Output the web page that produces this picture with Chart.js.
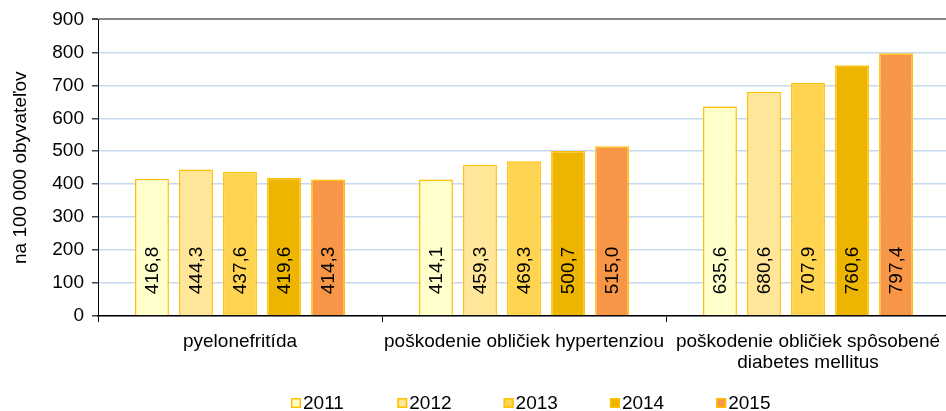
<!DOCTYPE html>
<html>
<head>
<meta charset="utf-8">
<script src="https://cdn.jsdelivr.net/npm/chart.js@4"></script>
<style>
  html, body { margin: 0; padding: 0; background: #fff; overflow: hidden; }
  #wrap { width: 960px; height: 411px; }
</style>
</head>
<body>
<div id="wrap"><canvas id="kidney_chart"></canvas></div>
<script>
// data
const categories = [
    'pyelonefritída',
    'poškodenie obličiek hypertenziou',
    ['poškodenie obličiek spôsobené', 'diabetes mellitus']
];
const years = ['2011', '2012', '2013', '2014', '2015'];
const values2011 = [416.8, 414.1, 635.6];
const values2012 = [444.3, 459.3, 680.6];
const values2013 = [437.6, 469.3, 707.9];
const values2014 = [419.6, 500.7, 760.6];
const values2015 = [414.3, 515.0, 797.4];
const yTicks = [0, 100, 200, 300, 400, 500, 600, 700, 800, 900];

const fills = ['#FFFFCC', '#FFE699', '#FFD450', '#EDB500', '#F79646'];
const edge = '#FFC000';
const font = 'Arial, "Liberation Sans", sans-serif';
const fontSize = 19;

const series = [values2011, values2012, values2013, values2014, values2015];

// values written vertically inside each bar, near its base
const barLabels = {
    id: 'barLabels',
    afterDatasetsDraw(chart) {
        const ctx = chart.ctx;
        ctx.save();
        ctx.font = fontSize + 'px ' + font;
        ctx.fillStyle = '#000';
        ctx.textAlign = 'left';
        ctx.textBaseline = 'middle';
        chart.data.datasets.forEach((ds, i) => {
            chart.getDatasetMeta(i).data.forEach((bar, j) => {
                const txt = ds.data[j].toFixed(1).replace('.', ',');
                ctx.save();
                ctx.translate(bar.x, bar.base - 21);
                ctx.rotate(-Math.PI / 2);
                ctx.fillText(txt, 0, 1);
                ctx.restore();
            });
        });
        ctx.restore();
    }
};

// legend at the bottom, drawn by hand for Excel-like spacing
const bottomLegend = {
    id: 'bottomLegend',
    afterDraw(chart) {
        const ctx = chart.ctx;
        ctx.save();
        ctx.font = fontSize + 'px ' + font;
        ctx.textBaseline = 'middle';
        const y = 403;
        let x = 291;
        chart.data.datasets.forEach(ds => {
            ctx.fillStyle = ds.backgroundColor;
            ctx.fillRect(x, y - 5, 10, 10);
            ctx.strokeStyle = ds.borderColor;
            ctx.lineWidth = 1.5;
            ctx.strokeRect(x + 0.75, y - 4.25, 8.5, 8.5);
            ctx.fillStyle = '#000';
            ctx.fillText(ds.label, x + 12, y + 1);
            x += 106.3;
        });
        ctx.restore();
    }
};

const datasets = series.map((vals, i) => ({
    label: years[i],
    data: vals,
    backgroundColor: fills[i],
    borderColor: edge,
    borderWidth: 1.5,
    categoryPercentage: 0.775,
    barPercentage: 0.77
}));

Chart.defaults.font.family = font;
Chart.defaults.color = '#000';

const ctx = document.getElementById('kidney_chart');
new Chart(ctx, {
    type: 'bar',
    data: {
        labels: categories,
        datasets: datasets
    },
    plugins: [barLabels, bottomLegend],
    options: {
        responsive: true,
        maintainAspectRatio: false,
        animation: false,
        layout: {
            padding: { top: 19, right: 10, bottom: 0, left: 0 }
        },
        scales: {
            x: {
                grid: {
                    offset: true,
                    drawOnChartArea: false,
                    drawTicks: true,
                    tickLength: 6,
                    color: '#000'
                },
                border: { color: '#000', width: 1.5 },
                ticks: {
                    font: { size: fontSize, lineHeight: 1.12 },
                    padding: 9,
                    maxRotation: 0,
                    autoSkip: false
                },
                afterFit(scale) { scale.height = 95; }
            },
            y: {
                min: 0,
                max: 900,
                afterBuildTicks(scale) {
                    scale.ticks = yTicks.map(v => ({ value: v }));
                },
                grid: {
                    color: c => c.tick && c.tick.value === 900 ? '#868686' : '#C6D9F1',
                    lineWidth: c => c.tick && c.tick.value === 900 ? 2 : 1.5,
                    tickColor: '#404040',
                    tickLength: 6
                },
                border: { color: '#000', width: 1 },
                ticks: {
                    font: { size: fontSize },
                    padding: 8
                },
                title: {
                    display: true,
                    text: 'na 100 000 obyvateľov',
                    font: { size: fontSize },
                    padding: { top: 9, bottom: 0 }
                },
                afterFit(scale) { scale.width = 98; }
            }
        },
        plugins: {
            legend: { display: false },
            tooltip: { enabled: false }
        }
    }
});
</script>
</body>
</html>
